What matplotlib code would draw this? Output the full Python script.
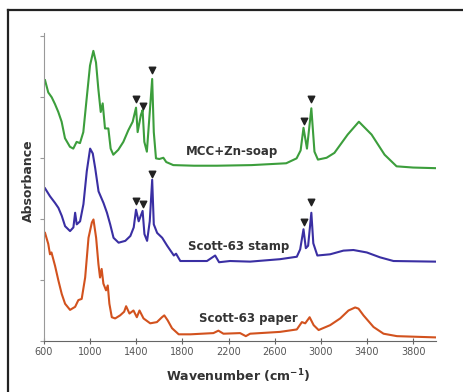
import matplotlib
matplotlib.use("Agg")
import matplotlib.pyplot as plt
from matplotlib.lines import Line2D

# wavenumber (cm-1) and absorbance (offset, arbitrary units)
zn_wn = [609, 637, 667, 695, 724, 753, 782, 825, 854, 883, 912, 941, 970, 999,
         1028, 1051, 1071, 1092, 1109, 1129, 1158, 1178, 1201, 1244, 1288, 1331,
         1369, 1398, 1412, 1440, 1455, 1470, 1492, 1538, 1552, 1571, 1600, 1635,
         1660, 1721, 1900, 2100, 2400, 2700, 2790, 2825, 2850, 2880, 2918, 2945,
         2975, 3050, 3118, 3233, 3330, 3440, 3553, 3657, 3800, 3990]
zn_abs = [4.27, 4.07, 3.99, 3.88, 3.75, 3.59, 3.32, 3.18, 3.15, 3.26, 3.24, 3.42,
          3.97, 4.51, 4.75, 4.56, 4.13, 3.75, 3.89, 3.48, 3.48, 3.15, 3.05, 3.13,
          3.26, 3.45, 3.59, 3.82, 3.42, 3.70, 3.78, 3.26, 3.10, 4.29, 3.42, 2.99,
          2.98, 3.00, 2.93, 2.88, 2.87, 2.87, 2.88, 2.91, 2.99, 3.12, 3.49, 3.15,
          3.81, 3.10, 2.97, 3.00, 3.08, 3.38, 3.59, 3.38, 3.05, 2.86, 2.84, 2.83]

stamp_wn = [609, 652, 696, 725, 754, 783, 826, 855, 870, 884, 913, 942, 971, 1000,
            1023, 1044, 1073, 1116, 1146, 1174, 1203, 1247, 1305, 1349, 1378, 1398,
            1421, 1455, 1471, 1494, 1517, 1538, 1552, 1581, 1625, 1668, 1726, 1745,
            1782, 2013, 2084, 2118, 2213, 2387, 2647, 2792, 2821, 2850, 2870, 2890,
            2918, 2935, 2970, 3081, 3196, 3283, 3399, 3514, 3630, 3990]
stamp_abs = [2.50, 2.37, 2.26, 2.18, 2.05, 1.88, 1.80, 1.86, 2.10, 1.91, 1.96,
             2.24, 2.78, 3.15, 3.07, 2.83, 2.45, 2.26, 2.10, 1.91, 1.69, 1.61, 1.64,
             1.72, 1.86, 2.15, 1.96, 2.13, 1.75, 1.64, 1.96, 2.64, 1.91, 1.77, 1.69,
             1.56, 1.40, 1.43, 1.31, 1.31, 1.40, 1.29, 1.31, 1.30, 1.34, 1.38, 1.50,
             1.83, 1.52, 1.56, 2.10, 1.60, 1.40, 1.42, 1.48, 1.49, 1.45, 1.37, 1.31,
             1.30]

paper_wn = [609, 637, 652, 665, 696, 725, 754, 783, 826, 870, 898, 927, 957, 986,
            1015, 1029, 1052, 1072, 1086, 1100, 1115, 1138, 1153, 1167, 1188, 1217,
            1260, 1295, 1312, 1341, 1376, 1405, 1428, 1463, 1521, 1579, 1623, 1643,
            1672, 1710, 1768, 1870, 2069, 2112, 2156, 2300, 2350, 2387, 2647, 2792,
            2836, 2865, 2903, 2938, 2981, 3081, 3168, 3240, 3298, 3327, 3370, 3457,
            3544, 3660, 3990]
paper_abs = [1.77, 1.59, 1.42, 1.45, 1.23, 0.99, 0.77, 0.61, 0.51, 0.56, 0.67,
             0.69, 1.04, 1.69, 1.94, 1.99, 1.69, 1.26, 1.04, 1.18, 0.94, 0.83, 0.91,
             0.61, 0.39, 0.37, 0.42, 0.48, 0.57, 0.45, 0.50, 0.39, 0.50, 0.37, 0.29,
             0.31, 0.39, 0.42, 0.34, 0.21, 0.11, 0.11, 0.13, 0.17, 0.12, 0.13, 0.08,
             0.12, 0.15, 0.19, 0.31, 0.29, 0.39, 0.26, 0.18, 0.26, 0.37, 0.50, 0.55,
             0.53, 0.42, 0.23, 0.12, 0.08, 0.06]

# peak markers (zinc soap bands)
mark_wn = [1398, 1455, 1538, 2850, 2918]
zn_mark = [3.96, 3.85, 4.43, 3.60, 3.96]
stamp_mark = [2.29, 2.24, 2.74, 1.95, 2.27]

labels = ["MCC+Zn-soap", "Scott-63 stamp", "Scott-63 paper"]
label_wn = [2230, 2290, 2370]
label_abs = [3.10, 1.54, 0.37]
colors = ["#3c9e3c", "#3a2fa3", "#d2521e"]

fig = plt.figure(figsize=(4.63, 3.92), dpi=100)
ax = fig.add_axes([0.095, 0.13, 0.847, 0.787])

for wn, ab, c in zip([zn_wn, stamp_wn, paper_wn], [zn_abs, stamp_abs, paper_abs], colors):
    ax.plot(wn, ab, color=c, lw=1.5, solid_joinstyle="round")

ax.scatter(mark_wn, zn_mark, marker="v", s=22, color="#222222", zorder=3)
ax.scatter(mark_wn, stamp_mark, marker="v", s=22, color="#222222", zorder=3)

for t, x, y in zip(labels, label_wn, label_abs):
    ax.text(x, y, t, ha="center", va="center", fontsize=8.5,
            fontweight="bold", color="#333333")

ax.set_xlim(600, 4000)
ax.set_ylim(0, 5.05)
ax.set_xticks([600, 1000, 1400, 1800, 2200, 2600, 3000, 3400, 3800])
ax.set_yticks([0, 1, 2, 3, 4, 5])
ax.set_yticklabels([])
ax.tick_params(axis="x", direction="inout", length=5, labelsize=7,
               labelcolor="#555555", color="#666666", pad=2)
ax.tick_params(axis="y", direction="out", length=3, color="#999999")
for s in ["top", "right"]:
    ax.spines[s].set_visible(False)
ax.spines["left"].set_color("#999999")
ax.spines["bottom"].set_color("#666666")

ax.set_xlabel("Wavenumber (cm$^{\\mathbf{-1}}$)", fontsize=9, fontweight="bold",
              color="#333333")
ax.set_ylabel("Absorbance", fontsize=9, fontweight="bold", color="#333333")
ax.xaxis.set_label_coords(0.495, -0.085)
ax.yaxis.set_label_coords(-0.022, 0.52)

# dark frame around the panel
y_top = 1 - 9.5 / 392
fig.add_artist(Line2D([7.5 / 463, 1], [y_top, y_top], color="#222222", lw=1.6))
fig.add_artist(Line2D([7.5 / 463, 7.5 / 463], [0, y_top], color="#222222", lw=1.6))

fig.savefig("out.png", dpi=100)
